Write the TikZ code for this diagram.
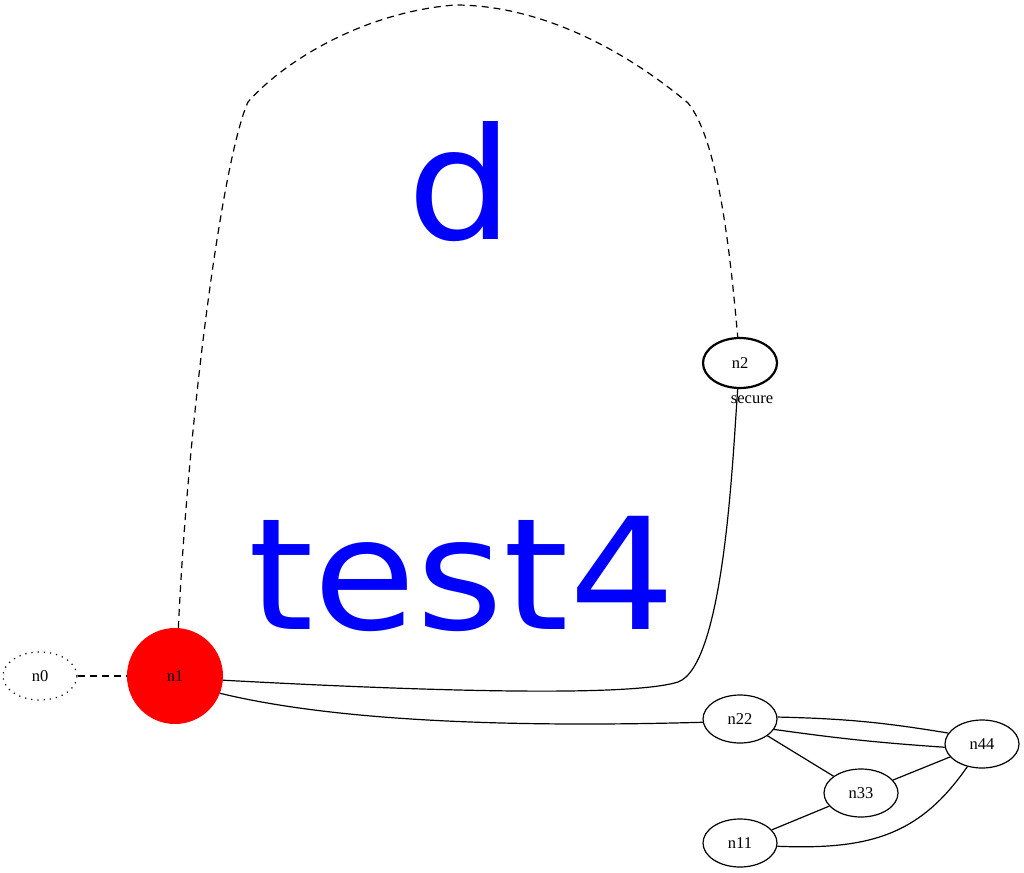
\documentclass[tikz,border=0pt]{standalone}
\usepackage{fontspec}
\usepackage{graphicx}
\setmainfont{Liberation Serif}
\newfontfamily\bigsans{DejaVu Sans}
\usetikzlibrary{shapes.geometric}
\newcommand{\squashtext}[1]{\scalebox{1}[0.93]{#1}}
\begin{document}
\begin{tikzpicture}[x=1pt,y=-1pt,
  lbl/.style={font=\fontsize{16.5}{16.5}\selectfont},
  vert/.style={ellipse,draw,line width=1.2pt,minimum width=74pt,minimum height=48pt,inner sep=0pt,lbl},
  edge/.style={line width=1.2pt},
  dashedge/.style={edge,dash pattern=on 7pt off 5pt},
  bigtext/.style={text=blue,inner sep=0pt,anchor=base,font=\bigsans\fontsize{167}{167}\selectfont}]
\useasboundingbox (0,0) rectangle (1024,872);
\fill[white] (0,0) rectangle (1024,872);

% large labels
\node[bigtext] (tD) at (460,239) {\squashtext{d}};
\node[bigtext] (tT) at (462,629) {\squashtext{test4}};

% vertices
\node[vert,dash pattern=on 1.2pt off 5pt] (n0) at (40,676) {n0};
\node[circle,fill=red,minimum size=96pt,inner sep=0pt,lbl] (n1) at (175,676) {n1};
\node[vert,line width=2.2pt,minimum height=50pt] (n2) at (740,363) {n2};
\node[lbl,anchor=base,inner sep=0pt] (sec) at (752,403) {secure};
\node[vert] (n22) at (740,719) {n22};
\node[vert] (n44) at (982,744) {n44};
\node[vert] (n33) at (861,793) {n33};
\node[vert] (n11) at (740,843) {n11};

% connectors
\draw[dashedge] (n0) -- (n1);
\draw[dashedge] (n1.86) .. controls (188,420) and (222,160) .. (248,102)
  .. controls (285,60) and (365,12) .. (455,5)
  .. controls (540,5) and (625,50) .. (688,103)
  .. controls (718,140) and (730,250) .. (n2.95);
\draw[edge] (n1.-5) .. controls (350,687) and (620,700) .. (678,682)
  .. controls (725,665) and (733,450) .. (n2.265);
\draw[edge] (n1.-21) .. controls (330,720) and (500,728) .. (n22.185);
\draw[edge] (n22.3) to[bend left=4] (n44.162);
\draw[edge] (n22.-17) to[bend right=2] (n44.185);
\draw[edge] (n22) -- (n33);
\draw[edge] (n33) -- (n44);
\draw[edge] (n11) -- (n33);
\draw[edge] (n11.-5) .. controls (870,850) and (920,835) .. (n44.-123);
\end{tikzpicture}
\end{document}
